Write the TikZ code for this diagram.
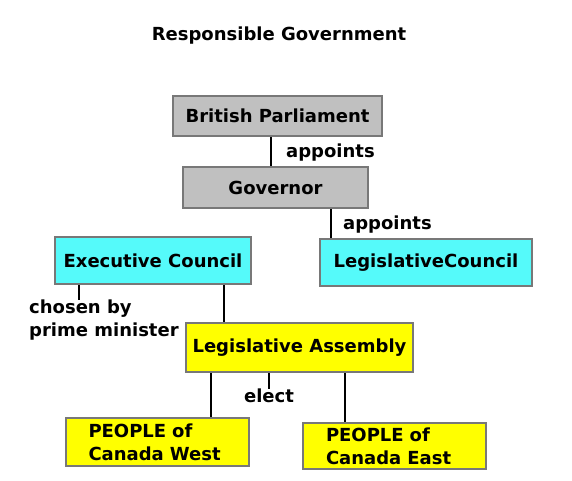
\documentclass[tikz,border=0pt]{standalone}
\usepackage{fontspec}
\setmainfont{DejaVu Sans}
\definecolor{boxgray}{RGB}{192,192,192}
\definecolor{boxcyan}{RGB}{85,250,250}
\definecolor{boxyellow}{RGB}{255,255,0}
\definecolor{boxrim}{RGB}{120,120,120}
\tikzset{
  box/.style={draw=boxrim, line width=2pt, inner sep=0pt, font=\bfseries\fontsize{18}{23}\selectfont},
  govbox/.style={box, fill=boxgray},
  councilbox/.style={box, fill=boxcyan},
  peoplebox/.style={box, fill=boxyellow},
  tag/.style={inner sep=0pt, font=\bfseries\fontsize{18}{23}\selectfont},
  link/.style={line width=1.3pt}
}
\begin{document}
\begin{tikzpicture}[x=1pt,y=-1pt]
      \useasboundingbox (0,0) rectangle (572,480);
      \node[tag, anchor=base] at (279,40) (title) {Responsible Government};
      %%%%%%%%%%%%%%%%%%%%%%%%%%%%%%%%%%%%%%%%%%%%%%%
      \node[govbox, minimum width=209pt, minimum height=40pt] at (277.5,116) (bp) {British Parliament};
      \node[govbox, minimum width=185pt, minimum height=41pt] at (275.5,187.5) (gov) {Governor};
      \node[tag, anchor=base west] at (286,157) (app1) {appoints};
      \draw[link] ([xshift=-4.5pt]gov.north) -- ([xshift=-4.5pt]gov.north |- bp.south);
      %%%%%%%%%%%%%%%%%%%%%%%%%%%%%%%%%%%%%%%%%%%%%%%
      \node[councilbox, minimum width=212pt, minimum height=47pt] at (426,262.5) (lc) {LegislativeCouncil};
      \node[councilbox, minimum width=196pt, minimum height=47pt] at (153,260.5) (ec) {Executive Council};
      \node[tag, anchor=base west] at (343,229) (app2) {appoints};
      \node[tag, align=left, anchor=north west] at (29,300) (chosen) {chosen by\\prime minister};
      \draw[link] ([xshift=12pt]lc.north west) -- ([xshift=12pt]lc.north west |- gov.south)
            ([xshift=25pt]ec.south west) -- ([xshift=25pt]ec.south west |- chosen.north);
      %%%%%%%%%%%%%%%%%%%%%%%%%%%%%%%%%%%%%%%%%%%%%%%
      \node[peoplebox, minimum width=227pt, minimum height=49pt] at (299.5,347.5) (la) {Legislative Assembly};
      \node[tag, anchor=north] at (269,389) (elect) {elect};
      \draw[link] ([xshift=-28pt]ec.south east) -- ([xshift=-28pt]ec.south east |- la.north)
            ([xshift=-30.5pt]la.south) -- ([xshift=-30.5pt]la.south |- elect.north);
      %%%%%%%%%%%%%%%%%%%%%%%%%%%%%%%%%%%%%%%%%%%%%%%
      \node[peoplebox, minimum width=183pt, minimum height=48pt, text width=138pt, align=left] at (157.5,442) (pw) {PEOPLE of\\Canada West};
      \node[peoplebox, minimum width=183pt, minimum height=46pt, text width=137pt, align=left] at (394.5,446) (pe) {PEOPLE of\\Canada East};
      \draw[link] ([xshift=26pt]la.south west) -- ([xshift=26pt]la.south west |- pw.north)
            ([xshift=-69pt]la.south east) -- ([xshift=-69pt]la.south east |- pe.north);
      %%%%%%%%%%%%%%%%%%%%%%%%%%%%%%%%%%%%%%%%%%%%%%%
\end{tikzpicture}
\end{document}
